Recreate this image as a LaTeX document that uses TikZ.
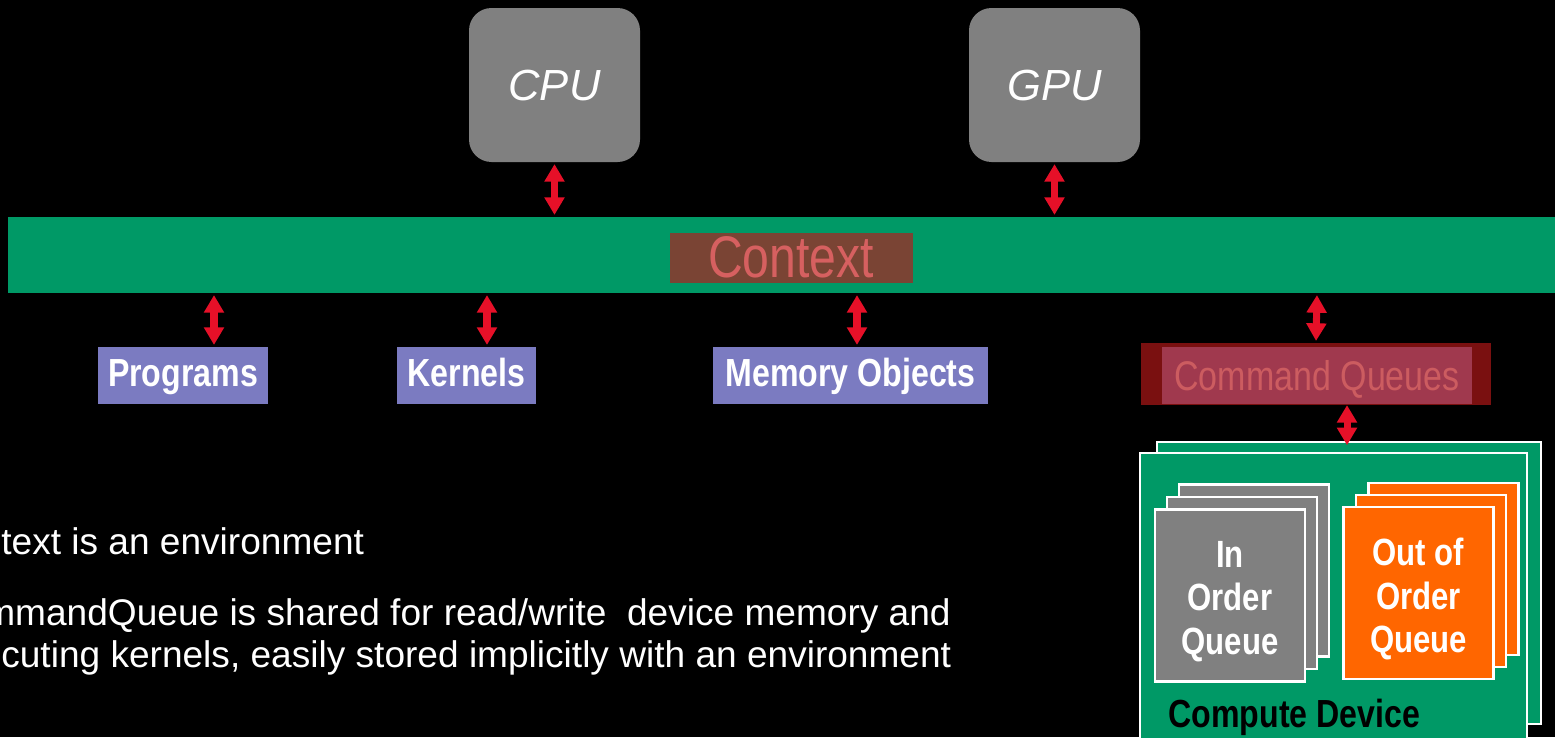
\documentclass[tikz,border=0pt]{standalone}
\usepackage{fontspec}
\setmainfont{Liberation Sans}
\newfontfamily\narrowfont[FakeStretch=0.82]{Liberation Sans}
\usetikzlibrary{arrows.meta}
\definecolor{ctxgreen}{RGB}{0,153,102}
\definecolor{chipgray}{RGB}{128,128,128}
\definecolor{objblue}{RGB}{123,123,193}
\definecolor{ctxbrown}{RGB}{122,68,52}
\definecolor{ctxtext}{RGB}{214,96,96}
\definecolor{cqdark}{RGB}{122,16,16}
\definecolor{cqinner}{RGB}{160,57,78}
\definecolor{cqtext}{RGB}{204,92,96}
\definecolor{qorange}{RGB}{255,102,0}
\definecolor{arrowred}{RGB}{230,16,40}
\newcommand{\pxu}{0.02cm}
\tikzset{>={Triangle[width=11pt,length=10pt]}}
\tikzset{
  link/.style={<->, draw=arrowred, line width=4pt, shorten <=1pt, shorten >=1pt},
  chip/.style={fill=chipgray, rounded corners=0.45cm, text=white, minimum width=171*\pxu, minimum height=154*\pxu, font=\fontsize{24.8pt}{28pt}\selectfont\itshape},
  objbox/.style={fill=objblue, text=white, minimum height=57*\pxu, inner sep=0pt, text height=16pt, text depth=3pt, font=\narrowfont\bfseries\fontsize{22.3pt}{26pt}\selectfont},
  queue/.style={draw=white, line width=1.2pt, minimum width=150*\pxu, minimum height=172*\pxu, inner sep=0pt},
  qtext/.style={align=center, inner sep=0pt, text=white, font=\narrowfont\bfseries\fontsize{21.6pt}{24.8pt}\selectfont},
  device/.style={draw=white, line width=1.2pt, fill=ctxgreen, inner sep=0pt},
  note/.style={anchor=base west, inner sep=0pt, text=white, font=\fontsize{21.1pt}{25pt}\selectfont}
}

\begin{document}
\begin{tikzpicture}[x=0.02cm, y=-0.02cm]
\clip (0,0) rectangle (1555,737);
\fill[black] (0,0) rectangle (1555,737);

\node[chip] (cpu) at (554.5,85) {CPU};
\node[chip] (gpu) at (1054.5,85) {GPU};

\node[fill=ctxgreen, minimum width=1547*\pxu, minimum height=76*\pxu, inner sep=0pt] (bar) at (781.5,255) {};
\node[fill=ctxbrown, text=ctxtext, minimum width=243*\pxu, minimum height=50*\pxu, inner sep=0pt, text height=24pt, text depth=2pt, font=\narrowfont\fontsize{33.4pt}{36pt}\selectfont] (ctx) at (791,258) {Context};

\node[objbox, minimum width=170*\pxu] (prog) at (183,375.5) {Programs};
\node[objbox, minimum width=139*\pxu] (kern) at (466.5,375.5) {Kernels};
\node[objbox, minimum width=275*\pxu] (mem) at (850.5,375.5) {Memory Objects};
\node[fill=cqdark, minimum width=350*\pxu, minimum height=62*\pxu, inner sep=0pt] (cqframe) at (1316,374) {};
\node[fill=cqinner, text=cqtext, minimum width=310*\pxu, minimum height=57*\pxu, inner sep=0pt, text height=17pt, text depth=0pt, font=\narrowfont\fontsize{23.6pt}{26pt}\selectfont] (cq) at (1317,375.5) {Command Queues};

\node[device, minimum width=384*\pxu, minimum height=282*\pxu] (devback) at (1349,583) {};
\node[device, minimum width=387*\pxu, minimum height=300*\pxu] (devfront) at (1333.5,603) {};
\node[anchor=base west, inner sep=0pt, font=\narrowfont\bfseries\fontsize{22.3pt}{26pt}\selectfont] (devname) at (1168,727) {Compute Device};

\coordinate (inpos) at (1230,595.5);
\coordinate (outpos) at (1418.5,593);
\foreach \d in {2,1} {
  \node[queue, fill=chipgray] at ([shift={(12.2*\d,-12.5*\d)}]inpos) {};
  \node[queue, fill=qorange] at ([shift={(12.5*\d,-12*\d)}]outpos) {};
}
\node[queue, fill=chipgray] (inq) at (inpos) {};
\node[queue, fill=qorange] (outq) at (outpos) {};
\node[qtext] (inlabel) at ([yshift=-6*\pxu]inq.center) {In\\Order\\Queue};
\node[qtext] (outlabel) at ([yshift=-6*\pxu]outq.center) {Out of\\Order\\Queue};

\coordinate (a1) at ([xshift=31*\pxu]prog.north);
\coordinate (a2) at ([xshift=20.5*\pxu]kern.north);
\coordinate (a3) at ([xshift=6.5*\pxu]mem.north);
\coordinate (a4) at ([xshift=31*\pxu]cqframe.south);
\draw[link] (cpu.south) -- (cpu.south |- bar.north);
\draw[link] (gpu.south) -- (gpu.south |- bar.north);
\draw[link] (a1 |- bar.south) -- (a1);
\draw[link] (a2 |- bar.south) -- (a2);
\draw[link] (a3 |- bar.south) -- (a3);
\draw[link] (cq.north |- bar.south) -- (cqframe.north);
\draw[link] ([yshift=2*\pxu]a4) -- ([yshift=-6*\pxu]a4 |- devback.north);

\node[note] (note1) at (1,554) {text is an environment};
\node[note] (note2) at (-16,625) {mmandQueue is shared for read/write\ \ device memory and};
\node[note] (note3) at (1,667) {cuting kernels, easily stored implicitly with an environment};
\end{tikzpicture}
\end{document}
